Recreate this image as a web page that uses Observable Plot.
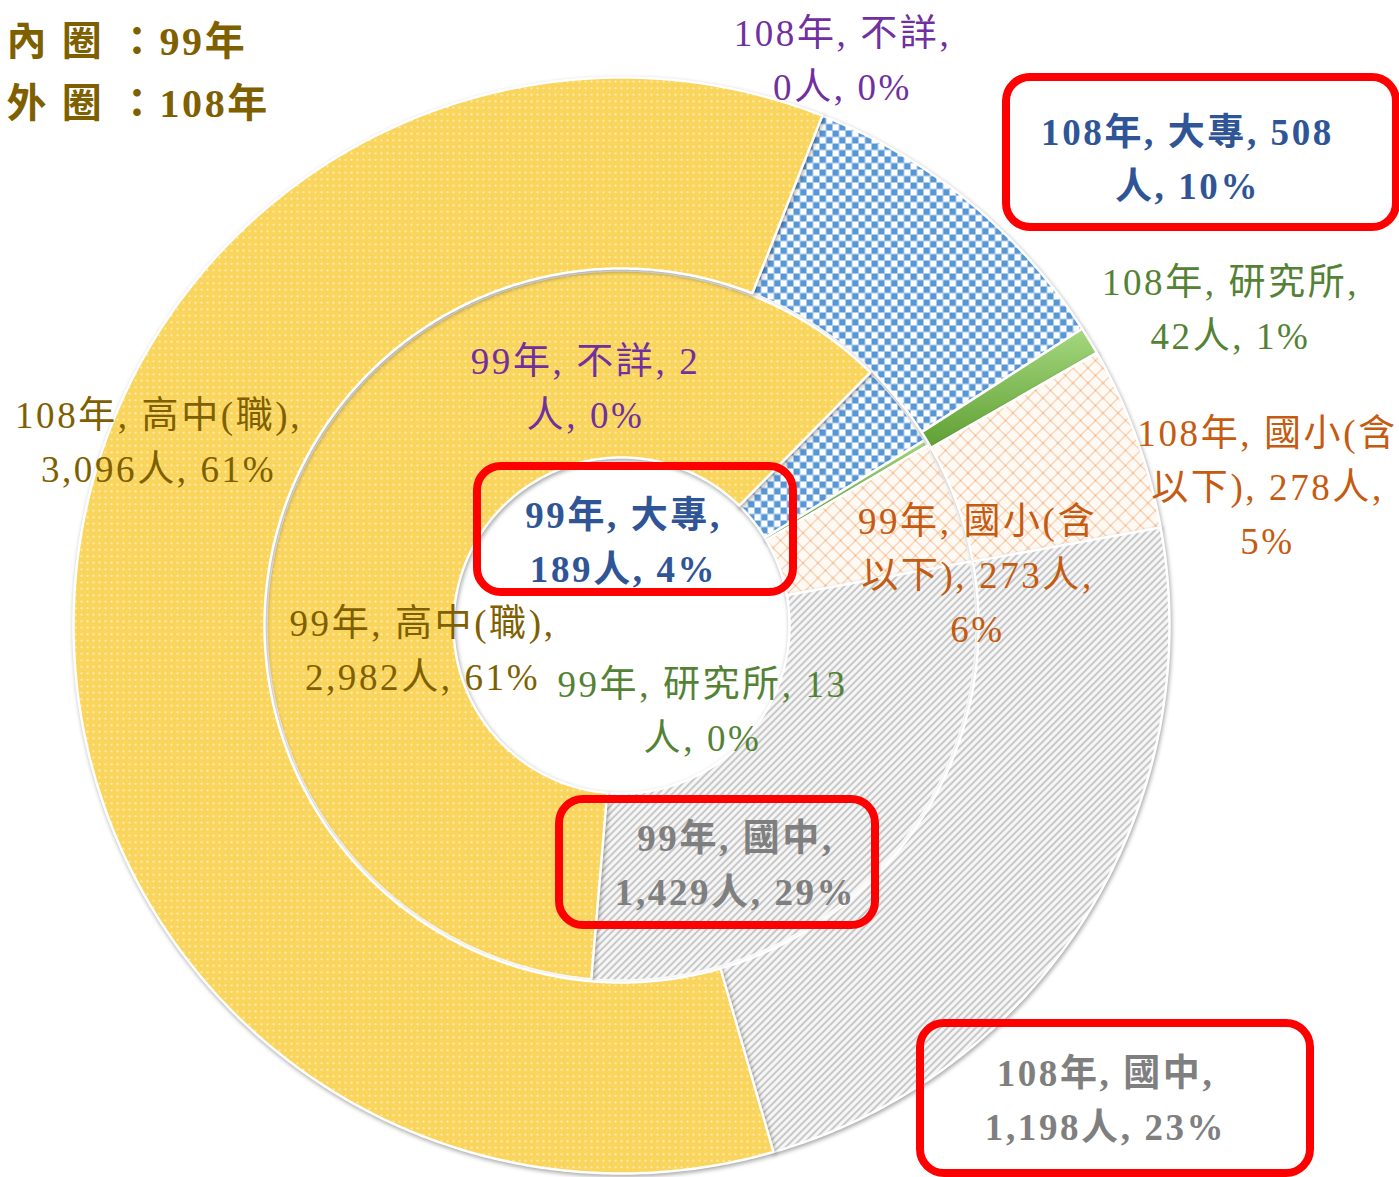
<!DOCTYPE html>
<html>
<head>
<meta charset="utf-8">
<script src="https://cdn.jsdelivr.net/npm/d3@7"></script>
<script src="https://cdn.jsdelivr.net/npm/@observablehq/plot@0.6"></script>
<style>
  html, body { margin: 0; padding: 0; background: #fff; }
  #chart svg { display: block; background: linear-gradient(#eef2f7 0px, #eef2f7 6px, #ffffff 6px); }
  #chart g[aria-label="line"] path { filter: drop-shadow(1.5px 2px 2px rgba(0,0,0,0.35)); }
  #chart text { letter-spacing: 2.6px; }
</style>
</head>
<body>
<div id="chart"></div>
<script>
// ---------------- data ----------------
const categories = ["不詳", "大專", "研究所", "國小(含以下)", "國中", "高中(職)"];
const values99  = [2, 189, 13, 273, 1429, 2982];
const values108 = [0, 508, 42, 278, 1198, 3096];
const pct99  = ["0%", "4%", "0%", "6%", "29%", "61%"];
const pct108 = ["0%", "10%", "1%", "5%", "23%", "61%"];
const legendLines = ["內 圈 ：99年", "外 圈 ：108年"];

// label texts (as shown in the chart)
const labels108 = [
  "108年, 不詳,\n0人, 0%",
  "108年, 大專, 508\n人, 10%",
  "108年, 研究所,\n42人, 1%",
  "108年, 國小(含\n以下), 278人,\n5%",
  "108年, 國中,\n1,198人, 23%",
  "108年, 高中(職),\n3,096人, 61%"
];
const labels99 = [
  "99年, 不詳, 2\n人, 0%",
  "99年, 大專,\n189人, 4%",
  "99年, 研究所, 13\n人, 0%",
  "99年, 國小(含\n以下), 273人,\n6%",
  "99年, 國中,\n1,429人, 29%",
  "99年, 高中(職),\n2,982人, 61%"
];
const highlighted = ["大專", "國中"];

// ---------------- layout / style ----------------
const W = 1399, H = 1177;
const CX = 621, CY = 625;
const rings = [
  {name: "99年",  values: values99,  start: 44.5, r0: 168, r1: 355},
  {name: "108年", values: values108, start: 21.5, r0: 357, r1: 548}
];
const catFill = ["#7030A0", "url(#patBlue)", "url(#gradGreen)", "url(#patOrange)", "url(#patGray)", "url(#patYellow)"];
const catText = ["#7030A0", "#2F5597", "#548235", "#C55A11", "#7F7F7F", "#7F6000"];
// label anchor points (pixels)
const pos108 = [[842, 55], [1187, 154], [1230, 304], [1267, 482], [1105, 1095], [158, 437]];
const pos99  = [[585, 383], [623, 537], [702, 706], [977, 570], [735, 860], [422, 645]];
const boxHalf = {"108年": [195, 75], "99年": [158, 63]};
const boxShift = {"108年": [[0,0],[14,-2],[0,0],[0,0],[10,3],[0,0]], "99年": [[0,0],[12,-8],[0,0],[0,0],[-18,2],[0,0]]};

// ---------------- geometry from data ----------------
function slices(ring) {
  const total = d3.sum(ring.values);
  let a = ring.start;
  const out = [];
  ring.values.forEach((v, i) => {
    const span = v / total * 360;
    const a0 = a, a1 = a + span;
    a = a1;
    if (v === 0) return;
    const n = Math.max(2, Math.ceil(span / 0.5) + 1);
    const pts = [];
    for (let k = 0; k < n; k++) {
      const t = (a0 + (a1 - a0) * k / (n - 1)) * Math.PI / 180;
      pts.push([CX + ring.r1 * Math.sin(t), CY - ring.r1 * Math.cos(t)]);
    }
    for (let k = n - 1; k >= 0; k--) {
      const t = (a0 + (a1 - a0) * k / (n - 1)) * Math.PI / 180;
      pts.push([CX + ring.r0 * Math.sin(t), CY - ring.r0 * Math.cos(t)]);
    }
    pts.forEach(([x, y]) => out.push({ring: ring.name, cat: i, key: ring.name + i, x, y}));
  });
  return out;
}
const slicePts = rings.flatMap(slices);

const labelData = [
  ...labels108.map((t, i) => ({ring: "108年", cat: i, text: t, x: pos108[i][0], y: pos108[i][1]})),
  ...labels99.map((t, i) => ({ring: "99年", cat: i, text: t, x: pos99[i][0], y: pos99[i][1]}))
].map(d => ({...d, bold: highlighted.includes(categories[d.cat])}));

const boxes = labelData.filter(d => d.bold).map(d => {
  const [hw, hh] = boxHalf[d.ring];
  const [sx, sy] = boxShift[d.ring][d.cat];
  return {x1: d.x + sx - hw, x2: d.x + sx + hw, y1: d.y + sy - hh, y2: d.y + sy + hh};
});

// ---------------- patterns ----------------
function defsMark() {
  const svg = d3.create("svg:g");
  const defs = svg.append("defs");
  const y = defs.append("pattern").attr("id", "patYellow").attr("patternUnits", "userSpaceOnUse").attr("width", 6).attr("height", 6.5);
  y.append("rect").attr("width", 6).attr("height", 6.5).attr("fill", "#FAD55E");
  y.append("circle").attr("cx", 3).attr("cy", 3.2).attr("r", 0.95).attr("fill", "#FFF6D0");
  const b = defs.append("pattern").attr("id", "patBlue").attr("patternUnits", "userSpaceOnUse").attr("width", 13).attr("height", 13);
  b.append("rect").attr("width", 13).attr("height", 13).attr("fill", "#FFFFFF");
  b.append("rect").attr("width", 6.5).attr("height", 6.5).attr("fill", "#5797D6");
  b.append("rect").attr("x", 6.5).attr("y", 6.5).attr("width", 6.5).attr("height", 6.5).attr("fill", "#5797D6");
  const o = defs.append("pattern").attr("id", "patOrange").attr("patternUnits", "userSpaceOnUse").attr("width", 15).attr("height", 15);
  o.append("rect").attr("width", 15).attr("height", 15).attr("fill", "#FFF9F4");
  o.append("path").attr("d", "M0,0L15,15M15,0L0,15").attr("stroke", "#F2B07C").attr("stroke-width", 1);
  o.append("circle").attr("cx", 7.5).attr("cy", 7.5).attr("r", 1.3).attr("fill", "#F5C49C");
  const g = defs.append("pattern").attr("id", "patGray").attr("patternUnits", "userSpaceOnUse").attr("width", 5).attr("height", 5).attr("patternTransform", "rotate(45)");
  g.append("rect").attr("width", 5).attr("height", 5).attr("fill", "#F6F6F6");
  g.append("rect").attr("width", 2).attr("height", 5).attr("fill", "#C8C8C8");
  const gr = defs.append("linearGradient").attr("id", "gradGreen").attr("x1", 0).attr("y1", 0).attr("x2", 0).attr("y2", 1);
  gr.append("stop").attr("offset", "0%").attr("stop-color", "#A6D77F");
  gr.append("stop").attr("offset", "100%").attr("stop-color", "#5FA033");
  return svg.node();
}

const fontFamily = '"Liberation Serif", "Noto Sans CJK TC", serif';
const textOpts = {
  x: "x", y: "y", text: "text",
  fill: d => catText[d.cat],
  fontSize: 37,
  lineHeight: 1.47,
  lineAnchor: "middle",
  textAnchor: "middle"
};

const chart = Plot.plot({
  width: W,
  height: H,
  margin: 0,
  x: {domain: [0, W], range: [0, W], axis: null},
  y: {domain: [0, H], range: [0, H], axis: null},
  style: {fontFamily, background: "transparent"},
  marks: [
    defsMark,
    ...categories.map((c, i) =>
      Plot.line(slicePts.filter(d => d.cat === i), {
        x: "x", y: "y", z: "key",
        curve: "linear-closed",
        fill: catFill[i],
        stroke: "#ffffff",
        strokeWidth: 2.5,
        strokeLinejoin: "round"
      })
    ),
    Plot.text(labelData.filter(d => !d.bold), {...textOpts, fontWeight: "normal"}),
    Plot.text(labelData.filter(d => d.bold), {...textOpts, fontWeight: "bold"}),
    Plot.rect(boxes, {x1: "x1", x2: "x2", y1: "y1", y2: "y2", fill: "none", stroke: "#FF0000", strokeWidth: 8, rx: 24}),
    Plot.text(legendLines, {
      x: () => 6, y: (d, i) => 42 + i * 62, text: d => d,
      textAnchor: "start", lineAnchor: "middle",
      fontSize: 40, fontWeight: "bold", fill: "#7F6000"
    })
  ]
});
chart.querySelectorAll("text").forEach(t => t.setAttribute("font-family", fontFamily));
document.getElementById("chart").appendChild(chart);
</script>
</body>
</html>
